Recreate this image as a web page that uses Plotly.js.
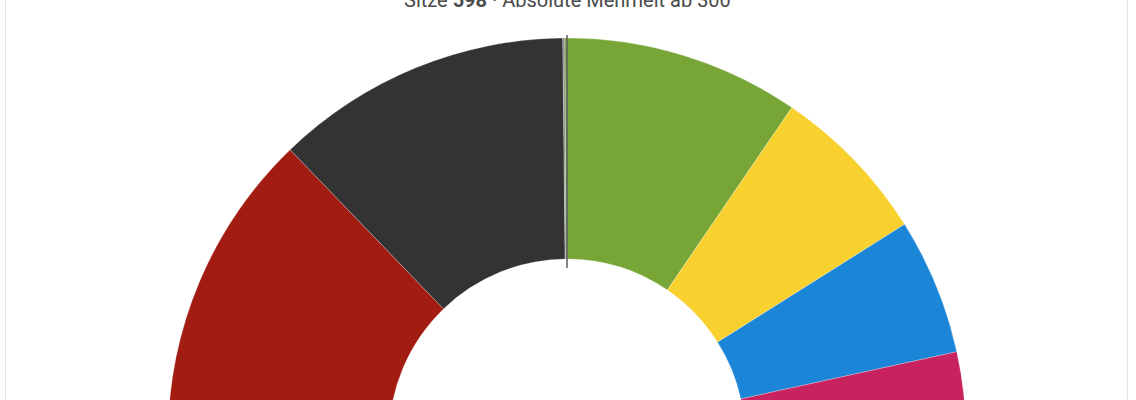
<!DOCTYPE html>
<html>
<head>
<meta charset="utf-8">
<script src="https://cdn.plot.ly/plotly-3.0.1.min.js"></script>
<style>
  html, body { margin: 0; padding: 0; width: 1136px; height: 400px; overflow: hidden; background: #fff; }
  #card { position: absolute; left: 5px; top: -20px; width: 1121px; height: 1000px; border: 1px solid #e6e6e6; border-radius: 4px; }
  #seat-chart { position: absolute; left: 0; top: 0; width: 1136px; height: 900px; }
</style>
</head>
<body>
<div id="card"></div>
<div id="seat-chart"></div>
<script>
//seat distribution, left to right
const parties = ['SPD', 'CDU/CSU', 'SSW', 'Grüne', 'FDP', 'AfD', 'Linke'];
const seats = [153, 144, 1, 115, 78, 66, 41];
const partyColors = ['#a31c12', '#333333', '#8c8c8c', '#77a637', '#f9d12e', '#1b85d7', '#c8235f'];
const totalSeats = 598;
const majority = 300;

//geometry in px: the plot div is taller than the window, so the lower half of the circle is cut off
const W = 1136, H = 900;
const cx = 567, cy = 437, R = 399, hole = 0.446;

let total = seats.reduce((a, b) => a + b, 0);

//second half of the circle is an invisible slice as big as all seats together
let seatTrace = {
  type: 'pie',
  labels: parties.concat(['']),
  values: seats.concat([total]),
  marker: {
    colors: partyColors.concat(['rgba(0,0,0,0)']),
    line: {
      color: parties.map(() => 'rgba(255,255,255,0.5)').concat(['rgba(0,0,0,0)']),
      width: 0.5
    }
  },
  hole: hole,
  sort: false,
  direction: 'clockwise',
  rotation: 270,
  textinfo: 'none',
  hoverinfo: 'label+value',
  showlegend: false,
  domain: {
    x: [(cx - R) / W, (cx + R) / W],
    y: [1 - (cy + R) / H, 1 - (cy - R) / H]
  }
};

let seatLayout = {
  width: W,
  height: H,
  margin: {l: 0, r: 0, t: 0, b: 0},
  paper_bgcolor: 'rgba(0,0,0,0)',
  showlegend: false,
  font: {family: 'Roboto, sans-serif'},
  annotations: [{
    xref: 'paper',
    yref: 'paper',
    x: cx / W,
    y: 1 - 14 / H,
    yanchor: 'bottom',
    showarrow: false,
    text: 'Sitze <b>' + totalSeats + '</b> · Absolute Mehrheit ab ' + majority,
    font: {family: 'Roboto, sans-serif', size: 20, color: '#4a4a4a'}
  }],
  //majority marker across the ring at 12 o'clock
  shapes: [{
    type: 'line',
    xref: 'paper',
    yref: 'paper',
    x0: cx / W,
    x1: cx / W,
    y0: 1 - (cy - R * hole + 9) / H,
    y1: 1 - (cy - R - 3) / H,
    line: {color: '#5c5c66', width: 1.5}
  }]
};

Plotly.newPlot('seat-chart', [seatTrace], seatLayout, {displayModeBar: false, staticPlot: true});
</script>
</body>
</html>
